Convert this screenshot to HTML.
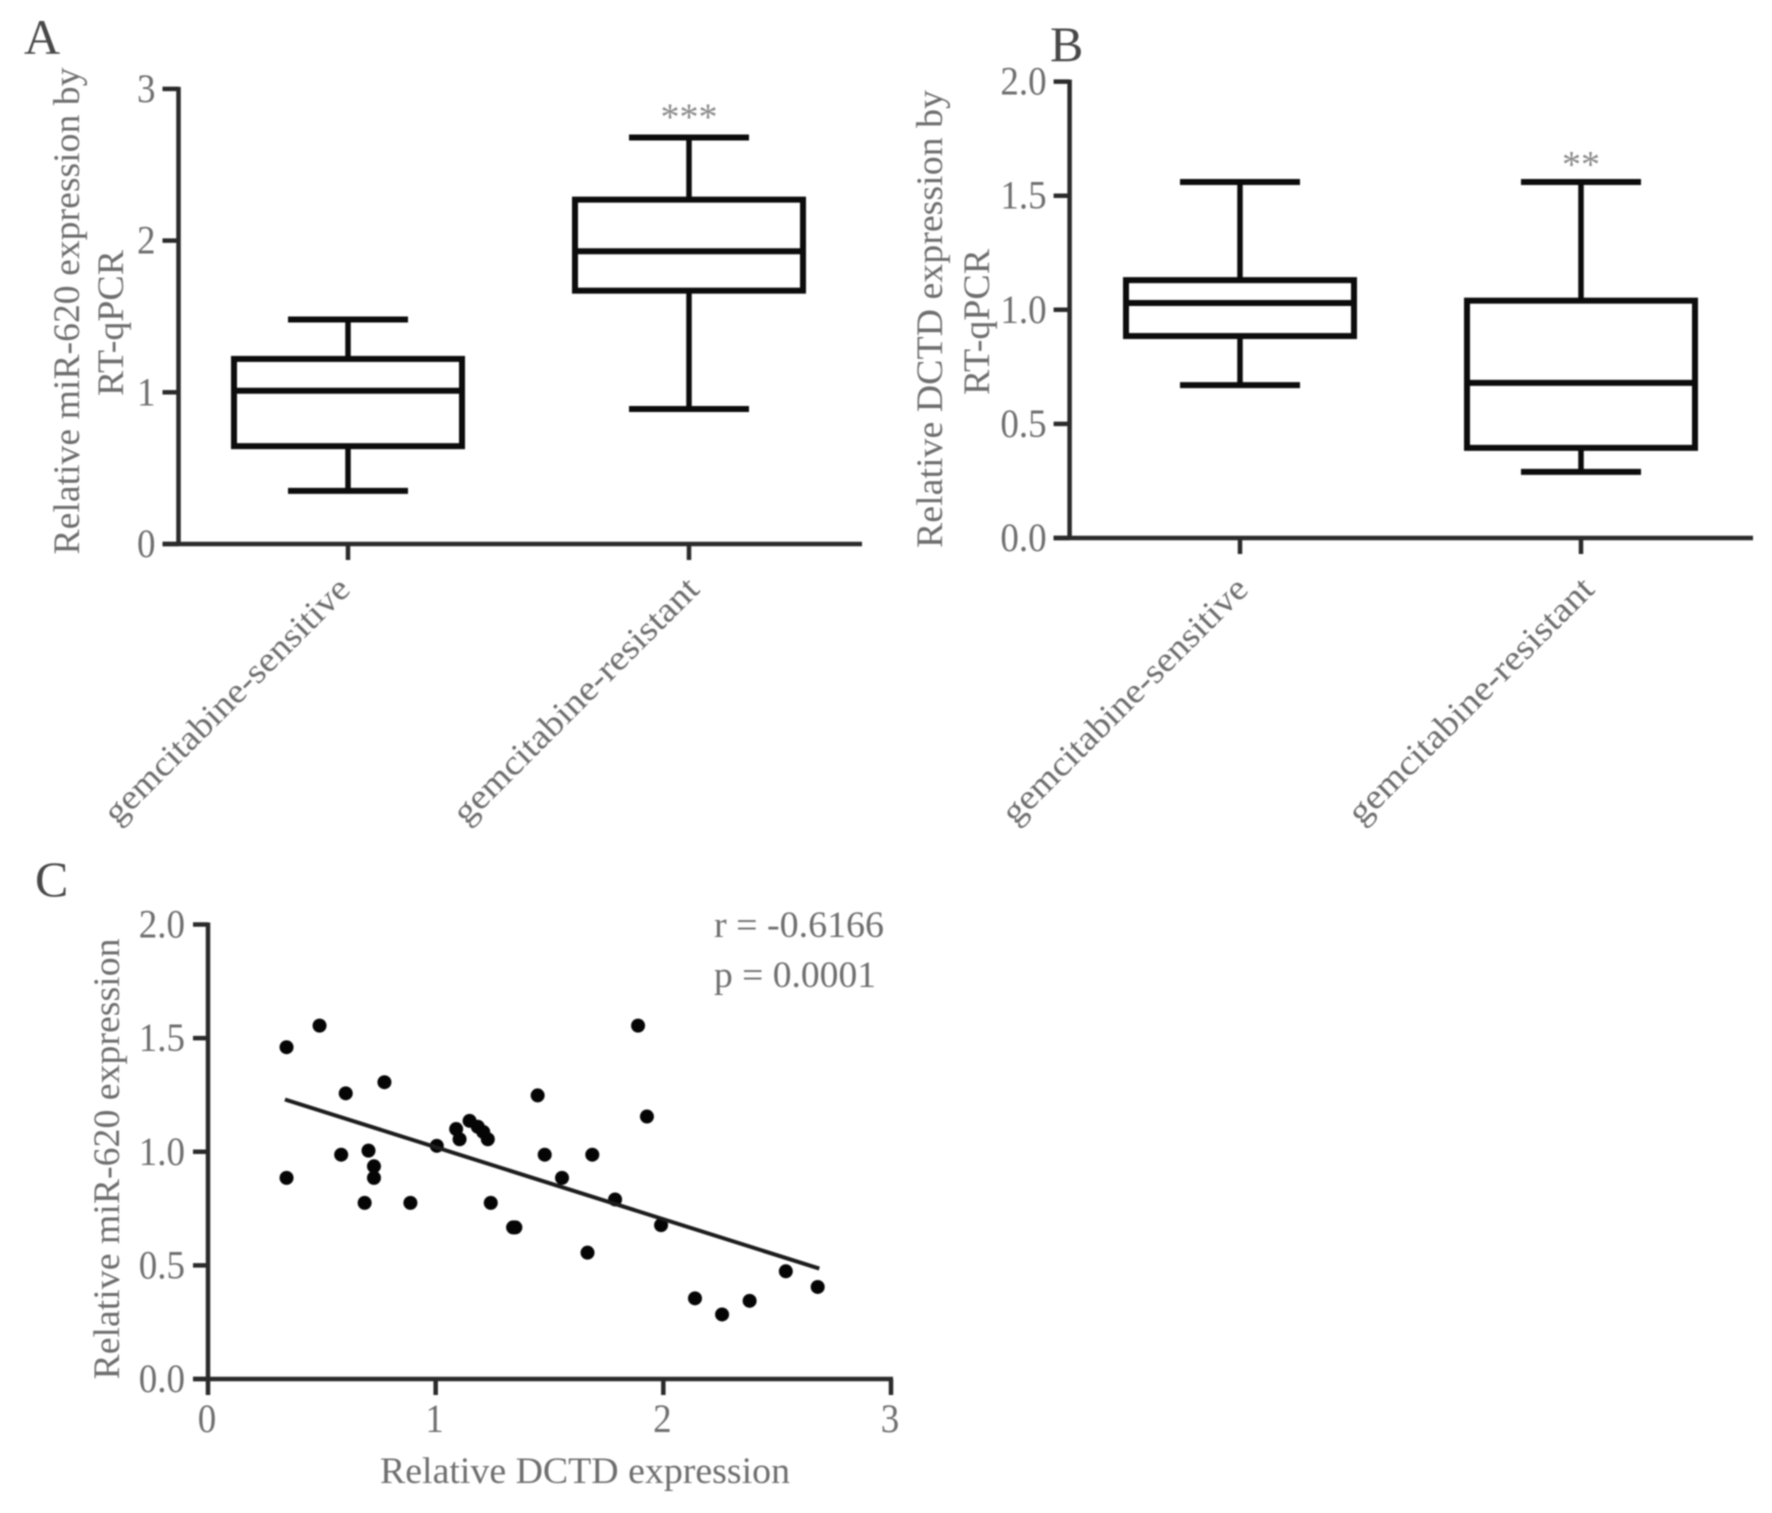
<!DOCTYPE html>
<html lang="en">
<head>
<meta charset="utf-8">
<title>miR-620 and DCTD expression</title>
<style>
html,body{margin:0;padding:0;background:#fff;width:1772px;height:1513px;overflow:hidden}
svg{display:block;filter:blur(0.9px)}
text{font-family:"Liberation Serif",serif;fill:#6e6e6e}
</style>
</head>
<body>
<svg id="figure" width="1772" height="1513" viewBox="0 0 1772 1513" xmlns="http://www.w3.org/2000/svg">
<rect x="0" y="0" width="1772" height="1513" fill="#fff"></rect>
</svg>
<script>
const categories = ['gemcitabine-sensitive', 'gemcitabine-resistant'];
const yTicksA = [0, 1, 2, 3];
const yTickLabelsA = ['0', '1', '2', '3'];
const yTicksB = [0, 0.5, 1, 1.5, 2];
const yTickLabelsB = ['0.0', '0.5', '1.0', '1.5', '2.0'];
const yTicksC = [0, 0.5, 1, 1.5, 2];
const yTickLabelsC = ['0.0', '0.5', '1.0', '1.5', '2.0'];
const xTicksC = [0, 1, 2, 3];
const xTickLabelsC = ['0', '1', '2', '3'];

// [whisker low, q1, median, q3, whisker high]
const boxesA = [
  [0.35, 0.645, 1.01, 1.22, 1.48],
  [0.89, 1.67, 1.93, 2.27, 2.68]
];
const boxesB = [
  [0.67, 0.885, 1.03, 1.13, 1.56],
  [0.29, 0.395, 0.68, 1.04, 1.56]
];
const significanceA = ['', '***'];
const significanceB = ['', '**'];

const scatterX = [0.345,0.49,0.605,0.775,0.585,0.705,0.729,0.729,0.345,0.688,0.889,1.005,1.09,1.105,1.149,1.185,1.209,1.229,1.242,1.34,1.35,1.448,1.479,1.555,1.688,1.667,1.788,1.889,1.928,1.99,2.139,2.258,2.379,2.538,2.678];
const scatterY = [1.46,1.555,1.257,1.306,0.987,1.005,0.936,0.885,0.885,0.775,0.775,1.026,1.10,1.055,1.136,1.11,1.087,1.055,0.775,0.667,0.667,1.248,0.987,0.885,0.987,0.556,0.79,1.555,1.155,0.677,0.355,0.284,0.344,0.474,0.405];
const fitX = [0.338, 2.685];
const fitY = [1.23, 0.486];

const NS = 'http://www.w3.org/2000/svg';
const root = document.getElementById('figure');

function make(tag, attrs, parent, content) {
  const el = document.createElementNS(NS, tag);
  for (const k in attrs) el.setAttribute(k, attrs[k]);
  if (content !== undefined) el.textContent = content;
  (parent || root).appendChild(el);
  return el;
}
function linear(d0, d1, r0, r1) {
  return v => r0 + (v - d0) * (r1 - r0) / (d1 - d0);
}
function seg(parent, x1, y1, x2, y2, w, color, name) {
  const el = make('line', {x1, y1, x2, y2, 'stroke-width': w, stroke: color, 'stroke-linecap': 'butt'}, parent);
  
  
  return el;
}
function label(parent, str, x, y, size, anchor, name, extra) {
  const el = make('text', Object.assign({x, y, 'font-size': size, 'text-anchor': anchor}, extra || {}), parent, str);
  
  
  return el;
}
// Tall, slightly condensed digits as in the reference.
function tickLabel(parent, str, x, y, anchor, name) {
  const el = label(parent, str, x, y, 40, anchor, name);
  const w = el.getComputedTextLength();
  el.setAttribute('textLength', w * 0.925);
  el.setAttribute('lengthAdjust', 'spacingAndGlyphs');
  return el;
}

function drawBoxPanel(cfg) {
  const g = make('g', {});
  
  
  const y = linear(cfg.yMin, cfg.yMax, cfg.y0, cfg.yTop);
  const x = i => cfg.xFirst + i * cfg.xStep;

  seg(g, cfg.x0, cfg.yTop - 2, cfg.x0, cfg.y0 + 2, 4.5, '#2a2a2a', 'y-axis-line');
  seg(g, cfg.x0 - 16, cfg.y0, cfg.xEnd, cfg.y0, 4.5, '#2a2a2a', 'x-axis-line');

  cfg.yTicks.forEach((t, i) => {
    seg(g, cfg.x0 - 16, y(t), cfg.x0, y(t), 4.5, '#2a2a2a', 'y-tick');
    tickLabel(g, cfg.yTickLabels[i], cfg.x0 - 23, y(t) + 13, 'end', 'y-tick-label');
  });

  categories.forEach((c, i) => {
    seg(g, x(i), cfg.y0, x(i), cfg.y0 + 16, 4.5, '#2a2a2a', 'x-tick');
    const lx = x(i) + cfg.labelDx[i];
    const ly = cfg.y0 + cfg.labelDy;
    label(g, c, lx, ly, 35, 'end', 'x-category-label', {
      transform: 'rotate(-45 ' + lx + ' ' + ly + ')',
      textLength: 332,
      lengthAdjust: 'spacingAndGlyphs'
    });

    const b = cfg.boxes[i];
    const cap = 60, half = 114;
    const bg = make('g', {}, g);
    
    
    seg(bg, x(i), y(b[4]), x(i), y(b[3]), 5.5, '#0c0c0c', 'whisker-upper');
    seg(bg, x(i), y(b[1]), x(i), y(b[0]), 5.5, '#0c0c0c', 'whisker-lower');
    seg(bg, x(i) - cap, y(b[4]), x(i) + cap, y(b[4]), 6, '#0c0c0c', 'cap-upper');
    seg(bg, x(i) - cap, y(b[0]), x(i) + cap, y(b[0]), 6, '#0c0c0c', 'cap-lower');
    const r = make('rect', {x: x(i) - half, y: y(b[3]), width: 2 * half, height: y(b[1]) - y(b[3]), fill: 'none', stroke: '#0c0c0c', 'stroke-width': 6}, bg);
    
    
    seg(bg, x(i) - half, y(b[2]), x(i) + half, y(b[2]), 6, '#0c0c0c', 'median-line');

    if (cfg.significance[i]) {
      const s = label(g, cfg.significance[i], x(i), y(b[4]) - cfg.sigGap, 38, 'middle', 'significance-marker');
      s.setAttribute('style', 'fill:#8a8a8a');
    }
  });

  cfg.titleLines.forEach((t, i) => {
    label(g, t.text, t.x, t.y, 37, 'middle', 'y-axis-title-line-' + (i + 1), {
      transform: 'rotate(-90 ' + t.x + ' ' + t.y + ')',
      textLength: t.len,
      lengthAdjust: 'spacingAndGlyphs'
    });
  });
}

drawBoxPanel({
  name: 'panel-a', x0: 178.5, xEnd: 862, y0: 544, yTop: 88.9, yMin: 0, yMax: 3,
  xFirst: 348, xStep: 341, yTicks: yTicksA, yTickLabels: yTickLabelsA,
  boxes: boxesA, significance: significanceA, sigGap: 8, labelDx: [4, 12], labelDy: 47,
  titleLines: [
    {text: 'Relative miR-620 expression by', x: 79, y: 311, len: 487},
    {text: 'RT-qPCR', x: 123, y: 323, len: 146}
  ]
});
drawBoxPanel({
  name: 'panel-b', x0: 1069.6, xEnd: 1753, y0: 538, yTop: 81.6, yMin: 0, yMax: 2,
  xFirst: 1240, xStep: 341, yTicks: yTicksB, yTickLabels: yTickLabelsB,
  boxes: boxesB, significance: significanceB, sigGap: 5, labelDx: [10, 15], labelDy: 53,
  titleLines: [
    {text: 'Relative DCTD expression by', x: 942, y: 319, len: 458},
    {text: 'RT-qPCR', x: 989, y: 322, len: 146}
  ]
});

(function drawScatter() {
  const g = make('g', {});
  
  
  const x0 = 208, xEnd = 891, yTop = 924.5, y0 = 1379;
  const x = linear(0, 3, x0, xEnd);
  const y = linear(0, 2, y0, yTop);

  seg(g, x0, yTop - 2, x0, y0 + 2, 4.5, '#2a2a2a', 'y-axis-line');
  seg(g, x0 - 15, y0, xEnd + 2, y0, 4.5, '#2a2a2a', 'x-axis-line');

  yTicksC.forEach((t, i) => {
    seg(g, x0 - 15, y(t), x0, y(t), 4.5, '#2a2a2a', 'y-tick');
    tickLabel(g, yTickLabelsC[i], x0 - 23, y(t) + 13, 'end', 'y-tick-label');
  });
  xTicksC.forEach((t, i) => {
    seg(g, x(t), y0, x(t), y0 + 16, 4.5, '#2a2a2a', 'x-tick');
    tickLabel(g, xTickLabelsC[i], x(t) - 1, y0 + 53, 'middle', 'x-tick-label');
  });

  scatterX.forEach((v, i) => {
    const c = make('circle', {cx: x(v), cy: y(scatterY[i]), r: 7, fill: '#050505'}, g);
    
    
  });
  seg(g, x(fitX[0]), y(fitY[0]), x(fitX[1]), y(fitY[1]), 4, '#1c1c1c', 'regression-line');

  label(g, 'Relative miR-620 expression', 119, 1159, 37, 'middle', 'y-axis-title', {
    transform: 'rotate(-90 119 1159)', textLength: 441, lengthAdjust: 'spacingAndGlyphs'
  });
  label(g, 'Relative DCTD expression', 585, 1483, 37, 'middle', 'x-axis-title', {
    textLength: 410, lengthAdjust: 'spacingAndGlyphs'
  });
  label(g, 'r = -0.6166', 714, 937, 37, 'start', 'correlation-r-value', {textLength: 170, lengthAdjust: 'spacingAndGlyphs'});
  label(g, 'p = 0.0001', 714, 987, 37, 'start', 'correlation-p-value', {textLength: 162, lengthAdjust: 'spacingAndGlyphs'});
})();

const panelLetters = ['A', 'B', 'C'];
const panelLetterX = [24, 1050, 35];
const panelLetterY = [54, 61, 896];
panelLetters.forEach((t, i) => {
  const el = label(root, t, panelLetterX[i], panelLetterY[i], 50, 'start', 'panel-label-' + t.toLowerCase());
  el.setAttribute('style', 'fill:#484848');
});
</script>
</body>
</html>
